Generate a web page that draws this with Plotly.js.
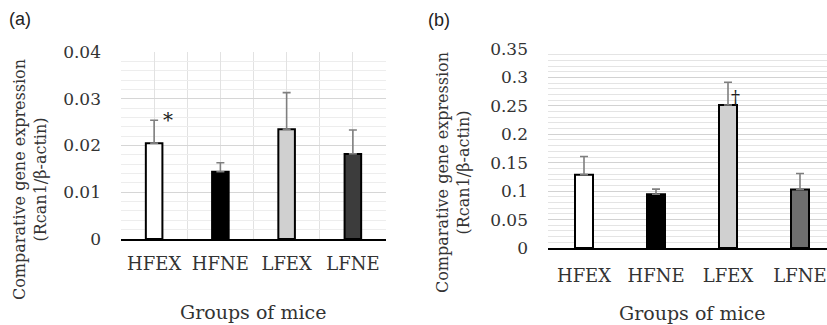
<!DOCTYPE html>
<html>
<head>
<meta charset="utf-8">
<script src="https://cdn.plot.ly/plotly-3.0.1.min.js"></script>
<style>html,body{margin:0;padding:0;background:#fff;overflow:hidden}#chart{width:827px;height:325px}</style>
</head>
<body>
<div id="chart"></div>
<script>
const categories = ["HFEX", "HFNE", "LFEX", "LFNE"];
const valuesA = [0.0205, 0.0144, 0.0235, 0.0182];
const errorsA = [0.0049, 0.0019, 0.0078, 0.0051];
const valuesB = [0.129, 0.0945, 0.2515, 0.103];
const errorsB = [0.032, 0.009, 0.040, 0.028];
const colorsA = ["#ffffff", "#000000", "#d0d0d0", "#3c3c3c"];
const colorsB = ["#ffffff", "#000000", "#d0d0d0", "#6e6e6e"];
const ticksA = [0, 0.01, 0.02, 0.03, 0.04];
const tickTextA = ["0", "0.01", "0.02", "0.03", "0.04"];
const ticksB = [0, 0.05, 0.1, 0.15, 0.2, 0.25, 0.3, 0.35];
const tickTextB = ["0", "0.05", "0.1", "0.15", "0.2", "0.25", "0.3", "0.35"];
const sigA = {index: 0, text: "*"};
const sigB = {index: 2, text: "†"};

const W = 827, H = 325;
const idx = categories.map((c, i) => i);
const serif = "'DejaVu Serif', 'Liberation Serif', serif";
const txtCol = "#333333";

function barTrace(vals, errs, cols, xa, ya) {
  return {
    type: "bar", x: idx, y: vals, xaxis: xa, yaxis: ya,
    width: 0.25,
    marker: {color: cols, line: {color: "#000000", width: 2}},
    error_y: {type: "data", symmetric: false, array: errs, arrayminus: errs.map(() => 0),
      color: "#7f7f7f", thickness: 1.6, width: 4},
    hoverinfo: "none", showlegend: false
  };
}

const data = [
  barTrace(valuesA, errorsA, colorsA, "x", "y"),
  barTrace(valuesB, errorsB, colorsB, "x2", "y2")
];

const xaxisCommon = {
  tickmode: "array", tickvals: idx, ticktext: categories,
  tickfont: {family: serif, size: 18, color: txtCol},
  ticks: "", showline: true, linecolor: "#000000", linewidth: 2,
  zeroline: false, fixedrange: true, ticklabelstandoff: 7
};

const layout = {
  width: W, height: H,
  margin: {l: 0, r: 0, t: 0, b: 0},
  paper_bgcolor: "#ffffff", plot_bgcolor: "#ffffff",
  bargap: 0,
  xaxis: Object.assign({}, xaxisCommon, {
    domain: [121 / W, 386 / W], range: [-0.5, 3.5], anchor: "y",
    showgrid: true, gridcolor: "#e2e2e2", gridwidth: 1,
    minor: {dtick: 0.5, tick0: -0.5, showgrid: true, gridcolor: "#e2e2e2", gridwidth: 1, ticks: ""}
  }),
  yaxis: {
    domain: [(H - 239) / H, (H - 52) / H], range: [0, 0.04], anchor: "x",
    tickmode: "array", tickvals: ticksA, ticktext: tickTextA,
    tickfont: {family: serif, size: 17, color: txtCol},
    showgrid: true, gridcolor: "#d6d6d6", gridwidth: 1.2,
    minor: {dtick: 0.002, showgrid: true, gridcolor: "#ededed", gridwidth: 1, ticks: ""},
    zeroline: false, showline: false, ticks: "", ticklabelstandoff: 19, fixedrange: true
  },
  xaxis2: Object.assign({}, xaxisCommon, {
    domain: [548 / W, 1], range: [-0.5, 3.375], anchor: "y2",
    showgrid: false, ticklabelstandoff: 10
  }),
  yaxis2: {
    domain: [(H - 248) / H, (H - 49) / H], range: [0, 0.35], anchor: "x2",
    tickmode: "array", tickvals: ticksB, ticktext: tickTextB,
    tickfont: {family: serif, size: 17, color: txtCol},
    showgrid: true, gridcolor: "#d2d2d2", gridwidth: 1.2,
    minor: {dtick: 0.01, showgrid: true, gridcolor: "#e4e4e4", gridwidth: 1, ticks: ""},
    zeroline: false, showline: false, ticks: "", ticklabelstandoff: 19, fixedrange: true
  },
  annotations: [
    {text: "(a)", xref: "paper", yref: "paper", x: 20 / W, y: (H - 19) / H, showarrow: false,
      font: {family: "Liberation Sans", size: 18, color: "#222"}, xanchor: "center", yanchor: "middle"},
    {text: "(b)", xref: "paper", yref: "paper", x: 439 / W, y: (H - 20) / H, showarrow: false,
      font: {family: "Liberation Sans", size: 18, color: "#222"}, xanchor: "center", yanchor: "middle"},
    {text: "Comparative gene expression<br>(Rcan1/β-actin)", xref: "paper", yref: "paper",
      x: 30 / W, y: (H - 180) / H, textangle: -90, showarrow: false,
      font: {family: serif, size: 16, color: txtCol}, xanchor: "center", yanchor: "middle"},
    {text: "Comparative gene expression<br>(Rcan1/β-actin)", xref: "paper", yref: "paper",
      x: 453 / W, y: (H - 173) / H, textangle: -90, showarrow: false,
      font: {family: serif, size: 16, color: txtCol}, xanchor: "center", yanchor: "middle"},
    {text: "Groups of mice", xref: "paper", yref: "paper", x: 253 / W, y: (H - 312) / H,
      showarrow: false, font: {family: serif, size: 19, color: txtCol}, xanchor: "center", yanchor: "middle"},
    {text: "Groups of mice", xref: "paper", yref: "paper", x: 692 / W, y: (H - 313) / H,
      showarrow: false, font: {family: serif, size: 19, color: txtCol}, xanchor: "center", yanchor: "middle"},
    {text: sigA.text, xref: "x", yref: "y", x: idx[sigA.index], y: valuesA[sigA.index] + errorsA[sigA.index],
      xshift: 14, yshift: 0, showarrow: false, font: {family: serif, size: 20, color: "#222"},
      xanchor: "center", yanchor: "middle"},
    {text: sigB.text, xref: "x2", yref: "y2", x: idx[sigB.index], y: valuesB[sigB.index],
      xshift: 7, yshift: 8, showarrow: false, font: {family: serif, size: 18, color: "#222"},
      xanchor: "center", yanchor: "middle"}
  ]
};

Plotly.newPlot("chart", data, layout, {staticPlot: true, displayModeBar: false});
</script>
</body>
</html>
